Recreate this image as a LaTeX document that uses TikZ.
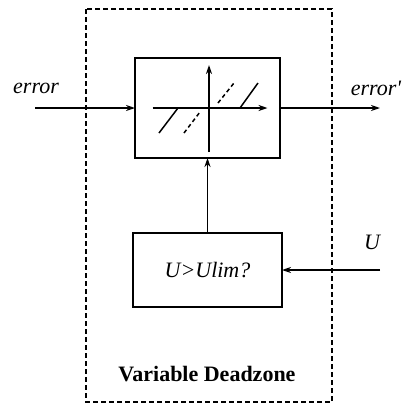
\documentclass[tikz,border=0pt]{standalone}
\usepackage{fontspec}
\setmainfont{Liberation Serif}
\usetikzlibrary{positioning,arrows.meta}

\begin{document}
\begin{tikzpicture}[x=1pt,y=-1pt,node distance=75pt,>={Stealth[length=9pt,width=6pt]},
  font=\fontsize{22}{26}\selectfont,
  blk/.style={draw,line width=2.8pt,outer sep=0pt},
  sig/.style={->,line width=1.4pt}]
\useasboundingbox (0,0) rectangle (407,410);
% dashed frame round the whole block
\draw[line width=1.6pt,dash pattern=on 5pt off 3pt] (86,9) rectangle (332,402);
\node[blk,minimum width=145pt,minimum height=100pt] (dz) at (207.5,108) {};
\node[blk,minimum width=149pt,minimum height=74pt,below=of dz] (lim) {\itshape U>Ulim?};
\node (title) at (207,374) {\bfseries Variable Deadzone};
% deadzone curve inside the top box
\begin{scope}[shift={(dz.center)},line width=1.5pt]
\draw[->] (-55,0) -- (60,0);
\draw[->] (1.5,44) -- (1.5,-43);
\draw (-48.5,25) -- (-29.5,0);
\draw (32.5,0) -- (50.5,-25);
\draw[dash pattern=on 4pt off 3pt] (-23.5,25) -- (-7.5,4);
\draw[dash pattern=on 4pt off 3pt] (10.5,-5) -- (26.5,-25);
\end{scope}
% signals
\node (errin) at (36,88) {\itshape error};
\node (errout) at (376,88) {\itshape error\textquotesingle};
\node (ulab) at (372,242) {\itshape U};
\coordinate (in) at (35,108);
\coordinate (out) at (380,108);
\coordinate (uin) at (380,270);
\draw[sig] (in) -- (dz.west);
\draw[sig] (dz.east) -- (out);
\draw[sig] (lim) -- (dz);
\draw[sig] (uin) -- (lim.east);
\end{tikzpicture}
\end{document}
